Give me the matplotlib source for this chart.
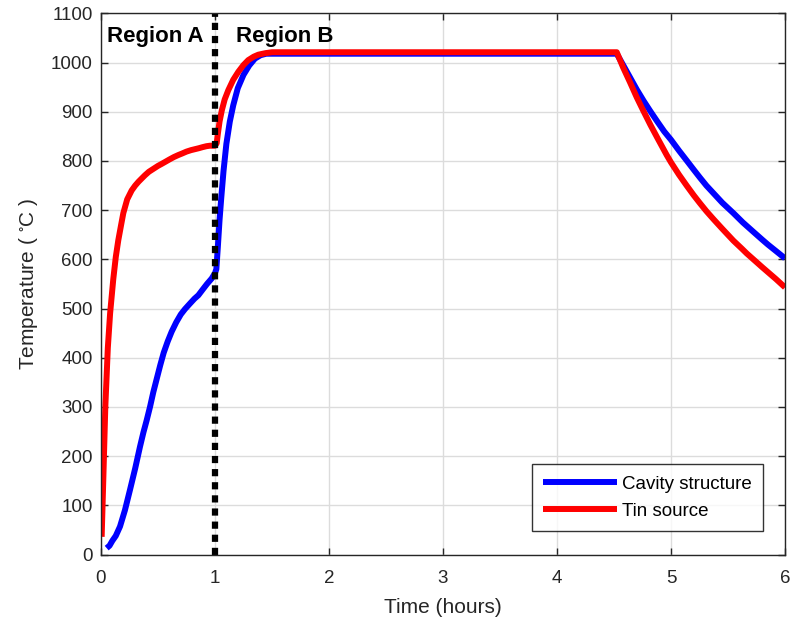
import matplotlib
matplotlib.use('Agg')
import matplotlib.pyplot as plt

plt.rcParams['font.family'] = ['Liberation Sans', 'DejaVu Sans']
plt.rcParams['mathtext.fontset'] = 'custom'
plt.rcParams['mathtext.rm'] = 'Liberation Sans'
plt.rcParams['mathtext.default'] = 'regular'

# ---- data ----
cavity_t = [0.05, 0.075, 0.10, 0.13, 0.167, 0.21, 0.254, 0.30, 0.342, 0.372,
            0.401, 0.43, 0.459, 0.49, 0.52, 0.55, 0.585, 0.62, 0.66, 0.70,
            0.737, 0.78, 0.82, 0.854, 0.89, 0.93, 0.971, 1.0, 1.012, 1.025,
            1.04, 1.055, 1.075, 1.10, 1.13, 1.16, 1.20, 1.25, 1.30, 1.35,
            1.40, 1.45, 4.524, 4.58, 4.64, 4.70, 4.76, 4.816, 4.88, 4.94,
            5.0, 5.07, 5.137, 5.20, 5.254, 5.31, 5.37, 5.45, 5.547, 5.63,
            5.722, 5.80, 5.85, 5.92, 6.0]
cavity_T = [13, 18, 28, 38, 57, 90, 131, 175, 219, 248,
            273, 300, 330, 358, 385, 410, 433, 453, 472, 488,
            499, 510, 520, 527, 538, 550, 561, 572, 580, 625,
            680, 725, 780, 835, 880, 913, 948, 975, 994, 1008,
            1015, 1018, 1018, 995, 970, 945, 922, 902, 880, 860,
            843, 821, 801, 782, 766, 750, 735, 715, 694, 675,
            656, 640, 630, 617, 602]

tin_t = [0.006, 0.02, 0.038, 0.06, 0.08, 0.108, 0.13, 0.152, 0.175, 0.196,
         0.23, 0.269, 0.30, 0.33, 0.36, 0.386, 0.42, 0.46, 0.50, 0.532,
         0.57, 0.60, 0.64, 0.678, 0.71, 0.75, 0.79, 0.825, 0.86, 0.89,
         0.925, 0.956, 1.0, 1.015, 1.025, 1.04, 1.06, 1.085, 1.117, 1.16,
         1.204, 1.25, 1.292, 1.34, 1.38, 1.44, 1.50, 4.524, 4.58, 4.64,
         4.70, 4.757, 4.82, 4.88, 4.962, 5.0, 5.07, 5.137, 5.20, 5.254,
         5.31, 5.371, 5.45, 5.547, 5.62, 5.664, 5.737, 5.80, 5.85, 5.92,
         6.0]
tin_T = [36, 150, 300, 420, 490, 560, 605, 639, 668, 694,
         722, 740, 750, 758, 765, 771, 778, 784, 790, 794,
         799, 803, 808, 812, 815, 819, 822, 824, 826, 828,
         830, 831, 831, 836, 855, 880, 903, 925, 944, 965,
         981, 995, 1005, 1012, 1016, 1019, 1021, 1021, 990, 960,
         929, 902, 873, 847, 812, 797, 772, 750, 730, 714,
         698, 682, 662, 638, 622, 612, 597, 584, 574, 560,
         543]

region_boundary = 1.0
region_labels = ['Region A', 'Region B']
series_labels = ['Cavity structure', 'Tin source']
x_ticks = [0, 1, 2, 3, 4, 5, 6]
y_ticks = list(range(0, 1101, 100))

fig = plt.figure(figsize=(7.92, 6.22), dpi=100)
ax = fig.add_axes([0.1275, 0.1085, 0.8637, 0.870])

ax.plot(cavity_t, cavity_T, color='#0000ff', lw=4.3, label=series_labels[0],
        solid_joinstyle='round', solid_capstyle='butt')
ax.plot(tin_t, tin_T, color='#ff0000', lw=4.3, label=series_labels[1],
        solid_joinstyle='round', solid_capstyle='butt')
ax.plot([region_boundary, region_boundary], [0, 1100], color='black', lw=4.5,
        linestyle=(0, (1.15, 0.95)), dash_capstyle='butt', clip_on=False)

ax.text(0.05, 1052, region_labels[0], fontsize=16, fontweight='bold',
        va='center', ha='left')
ax.text(1.18, 1052, region_labels[1], fontsize=16, fontweight='bold',
        va='center', ha='left')

ax.set_xlim(0, 6)
ax.set_ylim(0, 1100)
ax.set_xticks(x_ticks)
ax.set_yticks(y_ticks)
ax.grid(True, color='#dcdcdc', lw=1)
ax.set_axisbelow(True)
ax.tick_params(direction='in', top=True, right=True, length=5, width=1,
               labelsize=13.5, colors='#262626', labelcolor='#262626')
ax.tick_params(axis='y', pad=6)
ax.tick_params(axis='x', pad=11)
for s in ax.spines.values():
    s.set_color('#262626')
    s.set_linewidth(1)

ax.set_xlabel('Time (hours)', fontsize=15, color='#262626', labelpad=8)
ax.set_ylabel(r'Temperature ( $^{\circ}$C )', fontsize=15, color='#262626', labelpad=8)

leg = ax.legend(loc='lower right', bbox_to_anchor=(0.968, 0.043), borderaxespad=0,
                fontsize=13.5, frameon=True, fancybox=False, edgecolor='black',
                handlelength=3.9, handletextpad=0.3, borderpad=0.6,
                labelspacing=0.55)
leg.get_frame().set_linewidth(1.0)

fig.savefig('out.png', dpi=100)
